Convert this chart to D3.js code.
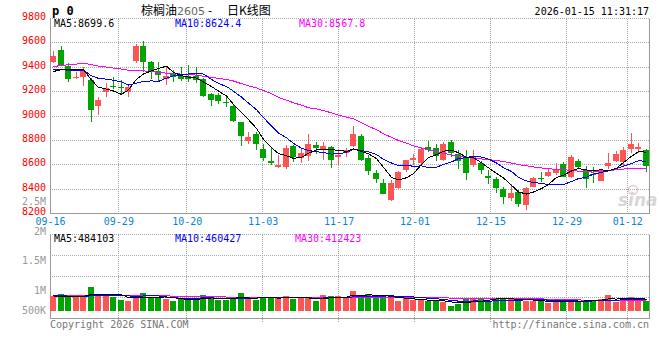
<!DOCTYPE html>
<html><head><meta charset="utf-8">
<script src="https://cdn.jsdelivr.net/npm/d3@7"></script>
<style>body{margin:0;background:#fff}svg{display:block}text{font-family:"DejaVu Sans Mono",monospace;font-size:10px}</style>
</head><body><svg id="c" width="660" height="360"></svg>
<script>
const dates = ["09-16","09-17","09-18","09-19","09-22","09-23","09-24","09-25","09-26","09-29","09-30",
"10-09","10-10","10-13","10-14","10-15","10-16","10-17","10-20","10-21","10-22","10-23","10-24","10-27","10-28","10-29","10-30","10-31",
"11-03","11-04","11-05","11-06","11-07","11-10","11-11","11-12","11-13","11-14","11-17","11-18","11-19","11-20","11-21","11-24","11-25","11-26","11-27","11-28",
"12-01","12-02","12-03","12-04","12-05","12-08","12-09","12-10","12-11","12-12","12-15","12-16","12-17","12-18","12-19","12-22","12-23","12-24","12-25","12-26","12-29","12-30","12-31",
"01-05","01-06","01-07","01-08","01-09","01-12","01-13","01-14","01-15"];
const open = [9444,9541,9411,9313,9324,9297,9084,9196,9245,9240, 9201,9454,9574,9444,9369,9300,9348,9330,9328,9330,
 9302,9182,9174,9117,9084,8948,8795,8855,8730,8627, 8584,8578,8757,8654,8670,8765,8719,8746,8662,8697,
 8757,8839,8657,8535,8453,8312,8412,8554,8635,8611, 8749,8741,8643,8787,8689,8657,8594,8611,8508,8486,
 8398,8327,8374,8271,8420,8489,8510,8529,8605,8497, 8632,8556,8526,8469,8592,8632,8619,8732,8732,8719];
const high = [9533,9577,9433,9365,9400,9310,9152,9269,9320,9292, 9250,9590,9615,9452,9443,9390,9380,9400,9419,9400,
 9315,9190,9188,9155,9090,8951,8872,8866,8770,8747, 8676,8765,8765,8738,8855,8784,8784,8757,8730,8738,
 8915,8855,8676,8554,8486,8472,8548,8643,8689,8744, 8798,8771,8787,8806,8719,8725,8719,8630,8554,8499,
 8420,8445,8393,8420,8497,8543,8573,8611,8619,8681, 8646,8592,8578,8565,8695,8714,8746,8860,8781,8733];
const low = [9433,9411,9283,9302,9248,8948,9011,9152,9225,9178, 9152,9438,9365,9305,9290,9258,9283,9290,9282,9268,
 9158,9079,9098,9073,8951,8757,8773,8718,8627,8597, 8570,8562,8622,8616,8630,8692,8643,8573,8602,8660,
 8746,8630,8513,8448,8356,8304,8404,8540,8597,8589, 8705,8630,8630,8665,8567,8478,8581,8521,8445,8371,
 8276,8301,8252,8225,8415,8462,8497,8516,8500,8491, 8565,8407,8448,8464,8565,8619,8584,8700,8700,8538];
const close = [9495,9422,9305,9318,9373,9052,9133,9231,9236,9234, 9237,9574,9441,9368,9333,9327,9322,9306,9305,9298,
 9166,9133,9120,9104,8956,8839,8828,8767,8652,8612, 8597,8741,8660,8697,8773,8741,8757,8643,8684,8719,
 8855,8643,8548,8486,8358,8448,8540,8635,8657,8730, 8725,8670,8773,8697,8630,8529,8665,8556,8492,8407,
 8338,8366,8279,8410,8489,8480,8537,8565,8502,8660, 8578,8483,8521,8556,8611,8687,8719,8773,8746,8592];
// volume in thousands
const volumeK = [938,972,927,916,927,1088,949,972,927,872, 861,911,988,927,911,888,855,888,872,911,
 955,911,872,872,911,988,888,872,922,922, 916,938,888,899,899,855,955,938,938,927,
 1027,927,972,927,916,916,855,899,872,872, 855,855,844,772,805,883,911,888,861,911,
 911,888,855,855,855,855,827,855,855,855, 855,877,877,894,955,844,911,927,894,855];
// estimated history before the first visible day (needed for moving averages)
const priorCloses = [9120,9150,9140,9170, 9420,9460,9480,9490,9475, 9540,9580,9570,9550,9555,
 9480,9450,9430,9420,9431, 9420,9420,9380,9360,9340, 9500,9342,9295,9318,9375];
const priorVolumeK = [980,950,1010,940,920,990,960,1000,930,950,970,940,990,960,930,970,950,980,940,960,
 990,940,980,950,960, 900,930,910,932];
const priceTicks = [9800,9600,9400,9200,9000,8800,8600,8400,8200];
const volTicks = [2500000,2000000,1500000,1000000,500000];
const volTickLabels = ["2.5M","2M","1.5M","1M","500K"];
const dateTicks = ["09-16","09-29","10-20","11-03","11-17","12-01","12-15","12-29","01-12"];
const maPeriods = [5,10,30];
const maColors = ["#000000","#0000ff","#ff00ff"];
const priceLegend = ["MA5:8699.6","MA10:8624.4","MA30:8567.8"];
const volLegend = ["MA5:484103","MA10:460427","MA30:412423"];
const titleParts = ["棕榈油","2605","-","日K线图"];
const stamp = "2026-01-15 11:31:17";

const UP = "#ff5454", DOWN = "#00a400", GRID = "#a8a8a8", BORDER = "#9a9a9a";
const L = 50, R = 650, PT = 18.5, PB = 213.5, VT = 234.5, VB = 318.5;
const svg = d3.select("#c");
const n = dates.length;
const xb = d3.scaleBand().domain(d3.range(n)).range([L, R]);
const xg = d3.scaleLinear().domain([0, n - 1]).range([L, R]);
const y = d3.scaleLinear().domain([8200, 9800]).range([PB, PT]);
const volume = volumeK.map(v => v * 1000);
const yv = d3.scaleLinear().domain([688000, 2500000]).range([311, 203.3]);
const px = v => Math.floor(v) + 0.5;

// title & stamp
svg.append("text").attr("x", 52).attr("y", 15).style("font-weight", "bold").style("font-size", "12px").text("p 0");
const cjk = "'Noto Sans CJK SC',sans-serif";
svg.append("text").attr("x", 141).attr("y", 15).style("font-size", "12px").style("font-family", cjk).attr("fill", "#000").text(titleParts[0]);
svg.append("text").attr("x", 177).attr("y", 15).style("font-size", "11px").style("font-family", "'DejaVu Sans',sans-serif").attr("fill", "#666").text(titleParts[1]);
svg.append("text").attr("x", 210).attr("y", 15).attr("text-anchor", "middle").style("font-size", "12px").style("font-family", cjk).attr("fill", "#000").text(titleParts[2]);
svg.append("text").attr("x", 227).attr("y", 15).style("font-size", "12px").style("font-family", cjk).attr("fill", "#000").text(titleParts[3]);
svg.append("text").attr("x", 649).attr("y", 15).attr("text-anchor", "end").attr("fill", "#000").text(stamp);

// grids main
const g = svg.append("g").attr("shape-rendering", "crispEdges");
priceTicks.filter(p => p !== 8200).forEach(p => {
  g.append("line").attr("x1", L).attr("x2", R).attr("y1", px(y(p))).attr("y2", px(y(p)))
    .attr("stroke", GRID).attr("stroke-dasharray", "1,1");
});
dateTicks.slice(1).forEach(d => {
  const xx = px(xg(dates.indexOf(d)));
  g.append("line").attr("x1", xx).attr("x2", xx).attr("y1", PT).attr("y2", PB).attr("stroke", GRID).attr("stroke-dasharray", "1,1");
  g.append("line").attr("x1", xx).attr("x2", xx).attr("y1", VT).attr("y2", VB + 4).attr("stroke", GRID).attr("stroke-dasharray", "1,1");
});
// volume horizontal grid
d3.range(4).forEach(k => {
  const yy = px(VT + k * (VB - VT) / 4);
  g.append("line").attr("x1", L).attr("x2", R).attr("y1", yy).attr("y2", yy).attr("stroke", GRID).attr("stroke-dasharray", "1,1");
});
// borders
[[L + 0.5, PT, L + 0.5, PB], [R - 0.5, PT, R - 0.5, PB], [L, PB, R, PB],
 [L + 0.5, VT, L + 0.5, VB], [R - 0.5, VT, R - 0.5, VB], [L, VB, R, VB]].forEach(s => {
  g.append("line").attr("x1", s[0]).attr("y1", s[1]).attr("x2", s[2]).attr("y2", s[3]).attr("stroke", BORDER);
});

// sina watermark
const wm = svg.append("g").attr("opacity", 0.55);
wm.append("circle").attr("cx", 633).attr("cy", 190).attr("r", 4.5).attr("fill", "none").attr("stroke", "#d9a0a0").attr("stroke-width", 1.5);
wm.append("text").attr("x", 618).attr("y", 206).style("font-family", "'DejaVu Sans',sans-serif").style("font-size", "17px")
  .style("font-style", "italic").style("font-weight", "bold").attr("fill", "#b8b8b8").text("sina");

// price axis
const ay = svg.append("g").attr("transform", `translate(${L - 4},0)`)
  .call(d3.axisLeft(y).tickValues(priceTicks).tickSize(0).tickPadding(0).tickFormat(d3.format("d")));
ay.select(".domain").remove();
ay.selectAll("text").attr("fill", "#ff0000").attr("dy", "0.1em").style("font-family", "'DejaVu Sans Mono',monospace").style("font-size", "10px");
// date axis
const ax = svg.append("g").attr("transform", `translate(0,${PB})`)
  .call(d3.axisBottom(xg).tickValues(dateTicks.map(d => dates.indexOf(d))).tickSize(0).tickPadding(4).tickFormat(i => dates[i]));
ax.select(".domain").remove();
ax.selectAll("text").attr("fill", "#0a84d0").style("font-family", "'DejaVu Sans Mono',monospace").style("font-size", "10px");
// volume labels
volTicks.forEach((v, k) => {
  svg.append("text").attr("x", 46).attr("y", Math.min(yv(v) + 1.5, 313.5)).attr("text-anchor", "end")
    .attr("fill", "#999").text(volTickLabels[k]);
});

// candles
const cg = svg.append("g").attr("shape-rendering", "crispEdges");
d3.range(n).forEach(i => {
  const up = close[i] >= open[i];
  const col = up ? UP : DOWN;
  const x0 = Math.round(xb(i));
  cg.append("line").attr("x1", x0 + 3.5).attr("x2", x0 + 3.5).attr("y1", y(high[i])).attr("y2", y(low[i])).attr("stroke", col);
  const top = y(Math.max(open[i], close[i])), bot = y(Math.min(open[i], close[i]));
  cg.append("rect").attr("x", x0).attr("width", 6).attr("y", top).attr("height", Math.max(1, bot - top)).attr("fill", col);
  const vt = yv(volume[i]);
  cg.append("rect").attr("x", x0).attr("width", 6).attr("y", vt).attr("height", 311 - vt).attr("fill", col);
});

// moving averages
function ma(series, prior, p) {
  const all = prior.concat(series), off = prior.length;
  return series.map((_, i) => d3.mean(all.slice(off + i - p + 1, off + i + 1)));
}
const lg = svg.append("g").attr("fill", "none").attr("stroke-width", 1).attr("shape-rendering", "crispEdges");
maPeriods.slice().reverse().forEach(p => {
  const k = maPeriods.indexOf(p);
  const m = ma(close, priorCloses, p);
  lg.append("path").attr("stroke", maColors[k])
    .attr("d", d3.line().x((d, i) => Math.round(xb(i)) + 3.5).y(d => y(d))(m));
  const mv = ma(volume, priorVolumeK.map(v => v * 1000), p);
  lg.append("path").attr("stroke", maColors[k])
    .attr("d", d3.line().x((d, i) => Math.round(xb(i)) + 3.5).y(d => yv(d))(mv));
});

// legends
const legX = [54, 175, 299];
priceLegend.forEach((s, k) => svg.append("text").attr("x", legX[k]).attr("y", 27).attr("fill", maColors[k]).text(s));
const volLegX = [54, 175, 295];
volLegend.forEach((s, k) => svg.append("text").attr("x", volLegX[k]).attr("y", 242).attr("fill", maColors[k]).text(s));

// footer
svg.append("text").attr("x", 50).attr("y", 328).attr("fill", "#777").text("Copyright 2026 SINA.COM");
svg.append("text").attr("x", 649).attr("y", 328).attr("text-anchor", "end").attr("fill", "#777").text("http://finance.sina.com.cn");
</script></body></html>
